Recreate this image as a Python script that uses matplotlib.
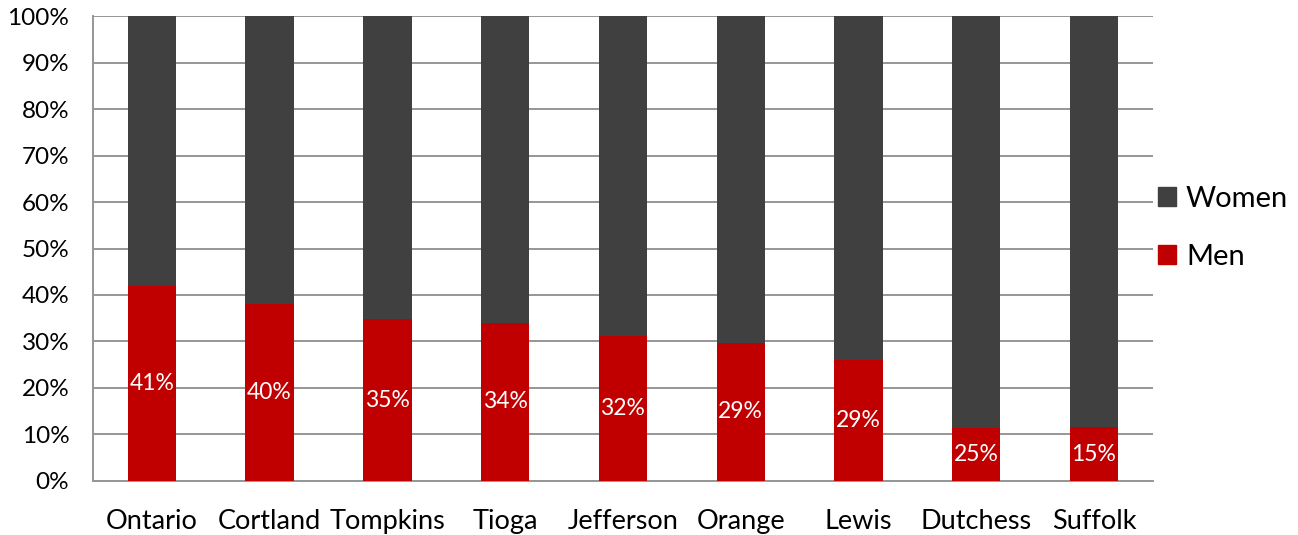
import matplotlib
matplotlib.use("Agg")
import matplotlib.pyplot as plt
from matplotlib.patches import Patch
from matplotlib.ticker import PercentFormatter

counties = ["Ontario", "Cortland", "Tompkins", "Tioga", "Jefferson",
            "Orange", "Lewis", "Dutchess", "Suffolk"]
# bar heights as drawn (share of men, %)
men = [41.9, 38.1, 34.8, 34.0, 31.1, 29.7, 26.1, 11.3, 11.5]
women = [100 - m for m in men]
# labels printed on the bars
men_labels = ["41%", "40%", "35%", "34%", "32%", "29%", "29%", "25%", "15%"]

plt.rcParams["font.family"] = ["Lato", "DejaVu Sans"]

fig = plt.figure(figsize=(12.98, 5.35), dpi=100)
ax = fig.add_axes([0.0716, 0.101, 0.8166, 0.869])

x = range(len(counties))
ax.bar(x, men, width=0.41, color="#C00000", zorder=3)
ax.bar(x, women, width=0.41, bottom=men, color="#404040", zorder=3)

for i, (m, lab) in enumerate(zip(men, men_labels)):
    ax.text(i, m / 2, lab, ha="center", va="center", color="white",
            fontsize=16.5, zorder=4)

ax.set_xlim(-0.5, len(counties) - 0.5)
ax.set_ylim(0, 100)
ax.set_yticks(range(0, 101, 10))
ax.yaxis.set_major_formatter(PercentFormatter(decimals=0))
ax.set_xticks(list(x), counties)
ax.tick_params(axis="both", length=0, colors="black")
ax.tick_params(axis="x", labelsize=19.5, pad=20)
ax.tick_params(axis="y", labelsize=17.5, pad=17)
ax.grid(axis="y", color="#969696", linewidth=1.4, zorder=0)
for side in ["top", "right"]:
    ax.spines[side].set_visible(False)
ax.spines["left"].set_color("#969696")
ax.spines["bottom"].set_color("#969696")
ax.spines["left"].set_linewidth(1.4)
ax.spines["bottom"].set_linewidth(1.4)

handles = [Patch(color="#404040", label="Women"), Patch(color="#C00000", label="Men")]
ax.legend(handles=handles, loc="center left", bbox_to_anchor=(0.9935, 0.544),
          frameon=False, fontsize=21, handlelength=0.62, handleheight=0.62,
          handletextpad=0.35, labelspacing=1.1, borderaxespad=0)

fig.savefig("out.png", dpi=100)
